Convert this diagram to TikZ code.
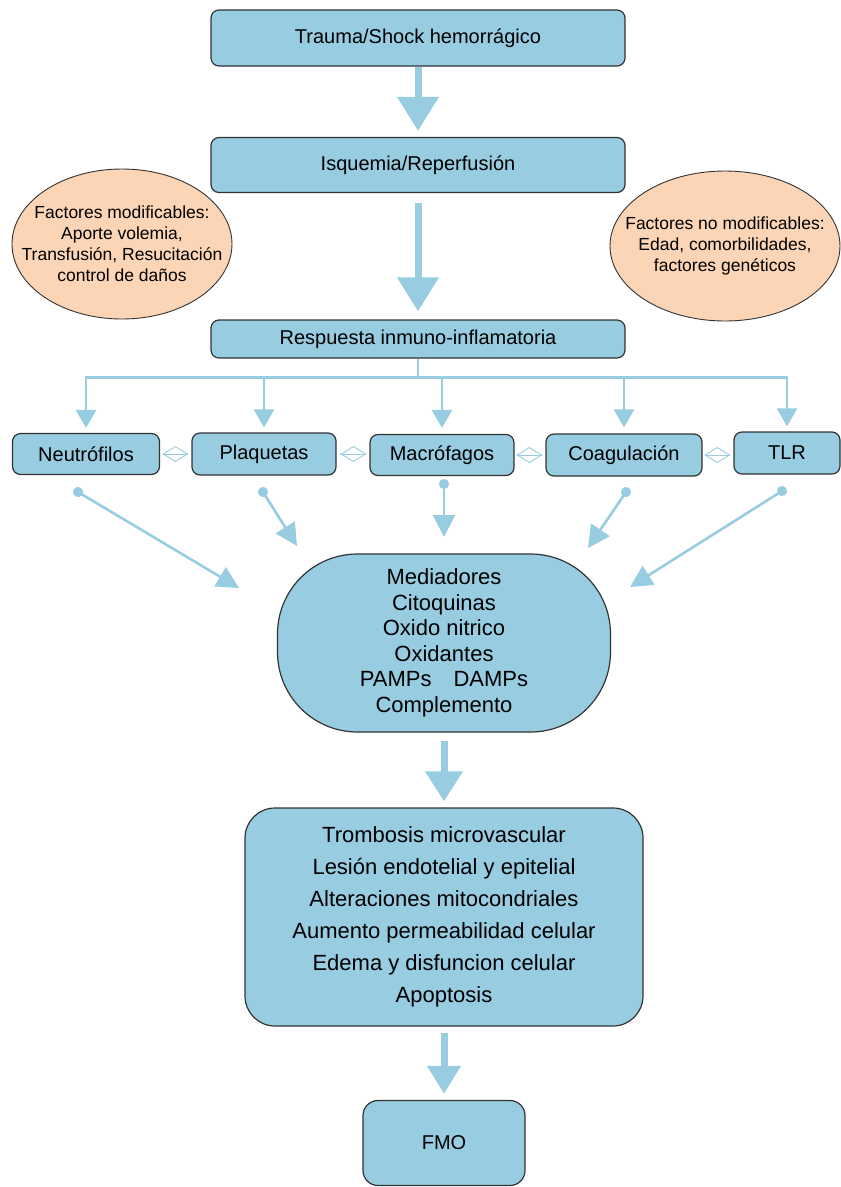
\documentclass[tikz,border=0pt]{standalone}
\usepackage{fontspec}
\setmainfont{Liberation Sans}
\usetikzlibrary{arrows.meta,shapes.geometric,calc}

\definecolor{boxblue}{HTML}{97CCE1}
\definecolor{peach}{HTML}{FCD5B6}
\definecolor{edgegray}{HTML}{333333}

\begin{document}
\begin{tikzpicture}[x=1pt,y=-1pt,
      box/.style={draw=edgegray,line width=1.2pt,fill=boxblue,rounded corners=8pt,
        align=center,inner sep=0pt,font=\fontsize{20}{24}\selectfont},
      factor/.style={ellipse,draw=edgegray,line width=0.9pt,fill=peach,align=center,
        inner xsep=-30pt,inner ysep=0pt,font=\fontsize{17.5}{21}\selectfont},
      flow/.style={draw=boxblue,line width=7pt,-{Triangle[length=34pt,width=40pt]}},
      branch/.style={draw=boxblue,line width=2.6pt,-{Triangle[length=18pt,width=20pt]}},
      feed/.style={draw=boxblue,line width=2.6pt,shorten <=-5pt,
        {Circle[length=10pt]}-{Triangle[length=22pt,width=22pt]}},
      link/.style={draw=boxblue,line width=0.9pt,shorten <=3pt,shorten >=3pt,
        -{Diamond[open,length=26pt,width=16pt]},postaction={draw,-}}]

      \useasboundingbox (0,0) rectangle (841,1187);

      % main chain
      \node[box,minimum width=414,minimum height=56] (trauma) at (418, 38)
        {Trauma/Shock hemorrágico};
      \node[box,minimum width=414,minimum height=55] (isq) at (418,165)
        {Isquemia/Reperfusión};
      \node[box,minimum width=414,minimum height=38] (resp) at (418,339)
        {Respuesta inmuno-inflamatoria};

      \node[factor,minimum width=220,minimum height=150] (fmod) at (122,244)
        {Factores modificables:\\Aporte volemia,\\Transfusión, Resucitación\\control de daños};
      \node[factor,minimum width=230,minimum height=150] (fnomod) at (725,246)
        {Factores no modificables:\\Edad, comorbilidades,\\factores genéticos};

      % cells
      \node[box,minimum width=147,minimum height=41] (neutro) at ( 86,454) {Neutrófilos};
      \node[box,minimum width=144,minimum height=42] (plaq)   at (264,454) {Plaquetas};
      \node[box,minimum width=144,minimum height=41] (macro)  at (442,455) {Macrófagos};
      \node[box,minimum width=156,minimum height=42] (coag)   at (624,455) {Coagulación};
      \node[box,minimum width=106,minimum height=42] (tlr)    at (787,453) {TLR};

      \node[box,rounded corners=80pt,minimum width=333,minimum height=178,
        font=\fontsize{22}{25.5}\selectfont] (med) at (444,643)
        {Mediadores\\Citoquinas\\Oxido nitrico\\Oxidantes\\PAMPs\quad DAMPs\\Complemento};

      \node[box,rounded corners=30pt,minimum width=398,minimum height=218,
        font=\fontsize{22}{32}\selectfont] (lesion) at (444,917)
        {Trombosis microvascular\\Lesión endotelial y epitelial\\Alteraciones mitocondriales\\
         Aumento permeabilidad celular\\Edema y disfuncion celular\\Apoptosis};

      \node[box,rounded corners=15pt,minimum width=162,minimum height=85] (fmo) at (444,1143)
        {FMO};

      \coordinate (d1) at ( 78,492);  \coordinate (t1) at (239,588);
      \coordinate (d2) at (263,492);  \coordinate (t2) at (297,546);
      \coordinate (d3) at (444,484);  \coordinate (t3) at (444,537);
      \coordinate (d4) at (626,492);  \coordinate (t4) at (588,548);
      \coordinate (d5) at (782,491);  \coordinate (t5) at (630,587);

      \path
      (trauma) edge[flow,shorten >=6pt] (isq)
      (isq) edge[flow,shorten <=10pt,shorten >=8pt] (resp)
      (med) edge[flow,shorten <=8pt,shorten >=6pt,
        -{Triangle[length=30pt,width=36pt]}] (lesion)
      (lesion) edge[flow,shorten <=6pt,shorten >=6pt,
        -{Triangle[length=28pt,width=32pt]}] (fmo)
      ;

      \draw[link] (neutro.east) -- (plaq.west);
      \draw[link] (plaq.east) -- (plaq.east -| macro.west);
      \draw[link] (macro.east) -- (macro.east -| coag.west);
      \draw[link] (coag.east) -- (coag.east -| tlr.west);

      \draw[branch,shorten >=5pt] (resp.south) -- ++(0,19) -| (neutro.north);
      \draw[branch,shorten >=5pt] (resp.south) -- ++(0,19) -| (plaq.north);
      \draw[branch,shorten >=6pt] (resp.south) -- ++(0,19) -| (macro.north);
      \draw[branch,shorten >=6pt] (resp.south) -- ++(0,19) -| (coag.north);
      \draw[branch,shorten >=5pt] (resp.south) -- ++(0,19) -| (tlr.north);

      \foreach \i in {1,...,5}
        \draw[feed] (d\i) -- (t\i);
    \end{tikzpicture}
\end{document}
